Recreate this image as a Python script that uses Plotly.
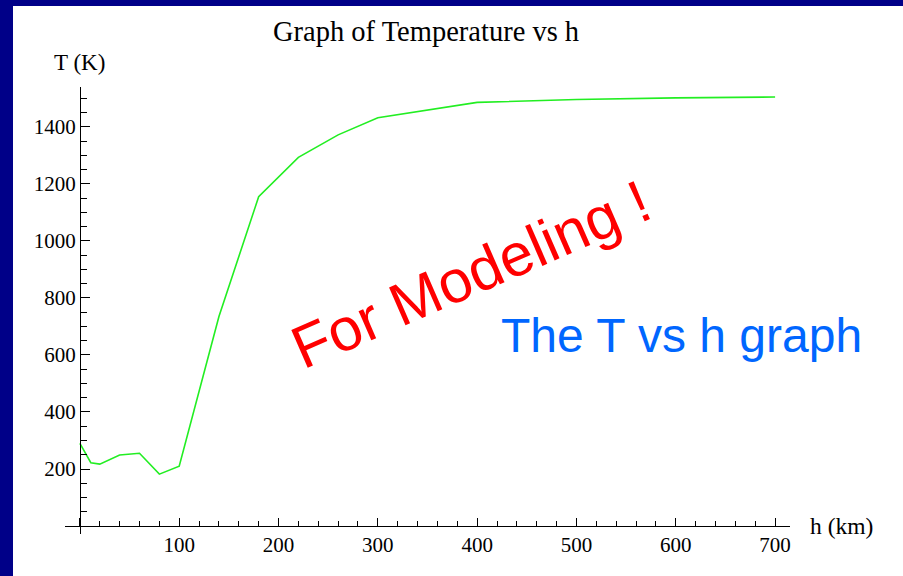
import plotly.graph_objects as go

# ---- data ----
h_km = [0, 11, 20, 40, 60, 80, 100, 140, 180, 220, 260, 300, 400, 500, 600, 700]
temp_K = [290, 222, 217, 249, 255, 182, 210, 735, 1155, 1293, 1372, 1432, 1486, 1496, 1502, 1505]

x_ticks = [0, 100, 200, 300, 400, 500, 600, 700]
x_ticktext = ["", "100", "200", "300", "400", "500", "600", "700"]
y_ticks = [0, 200, 400, 600, 800, 1000, 1200, 1400]
y_ticktext = ["", "200", "400", "600", "800", "1000", "1200", "1400"]

title_text = "Graph of Temperature vs h"
x_label = "h (km)"
y_label = "T (K)"
note_red = "For Modeling !"
note_blue = "The T vs h graph"

# ---- layout geometry ----
W, H = 903, 576
ML, MR, MT, MB = 65, 113, 87, 42
PW, PH = W - ML - MR, H - MT - MB
XR = [-15, 715]
YR = [-28, 1540]


def px_x(px):
    return (px - ML) / PW


def px_y(py):
    return (H - MB - py) / PH


serif = "Liberation Serif, Times New Roman, serif"
sans = "Liberation Sans, Arial, sans-serif"

fig = go.Figure()
fig.add_trace(go.Scatter(
    x=h_km, y=temp_K, mode="lines",
    line=dict(color="#22ee22", width=1.6),
    showlegend=False, hoverinfo="skip",
))

axis_common = dict(
    showline=True, linecolor="black", linewidth=1,
    ticks="inside", tickcolor="black", tickwidth=1,
    showgrid=False, zeroline=False,
    tickfont=dict(family=serif, size=21, color="black"),
    tickmode="array",
)

fig.update_layout(
    width=W, height=H,
    margin=dict(l=ML, r=MR, t=MT, b=MB, pad=0),
    paper_bgcolor="#000088",
    plot_bgcolor="rgba(0,0,0,0)",
    xaxis=dict(
        range=XR, anchor="free", position=(0 - YR[0]) / (YR[1] - YR[0]),
        tickvals=x_ticks, ticktext=x_ticktext, ticklen=8,
        minor=dict(ticks="inside", ticklen=5, tickcolor="black", tickwidth=1,
                   tickmode="linear", tick0=0, dtick=20),
        **axis_common,
    ),
    yaxis=dict(
        range=YR, anchor="free", position=(0 - XR[0]) / (XR[1] - XR[0]),
        tickvals=y_ticks, ticktext=y_ticktext, ticklen=9,
        minor=dict(ticks="inside", ticklen=6, tickcolor="black", tickwidth=1,
                   tickmode="linear", tick0=0, dtick=50),
        **axis_common,
    ),
    shapes=[dict(
        type="rect", xref="paper", yref="paper", layer="below",
        x0=px_x(13), x1=px_x(915), y0=px_y(590), y1=px_y(6),
        fillcolor="white", line=dict(width=0),
    )],
    annotations=[
        dict(text=title_text, xref="paper", yref="paper", x=px_x(426), y=px_y(32),
             xanchor="center", yanchor="middle", showarrow=False,
             font=dict(family=serif, size=28.5, color="black")),
        dict(text=y_label, xref="paper", yref="paper", x=px_x(79.5), y=px_y(62),
             xanchor="center", yanchor="middle", showarrow=False,
             font=dict(family=serif, size=23, color="black")),
        dict(text=x_label, xref="paper", yref="paper", x=px_x(841.5), y=px_y(526),
             xanchor="center", yanchor="middle", showarrow=False,
             font=dict(family=serif, size=23.5, color="black")),
        dict(text=note_red, xref="paper", yref="paper", x=px_x(471), y=px_y(274),
             xanchor="center", yanchor="middle", showarrow=False, textangle=-23.5,
             font=dict(family=sans, size=60, color="#ff0000")),
        dict(text=note_blue, xref="paper", yref="paper", x=px_x(681.7), y=px_y(335),
             xanchor="center", yanchor="middle", showarrow=False,
             font=dict(family=sans, size=48, color="#0066ff")),
    ],
)

fig.write_html("out.html")
